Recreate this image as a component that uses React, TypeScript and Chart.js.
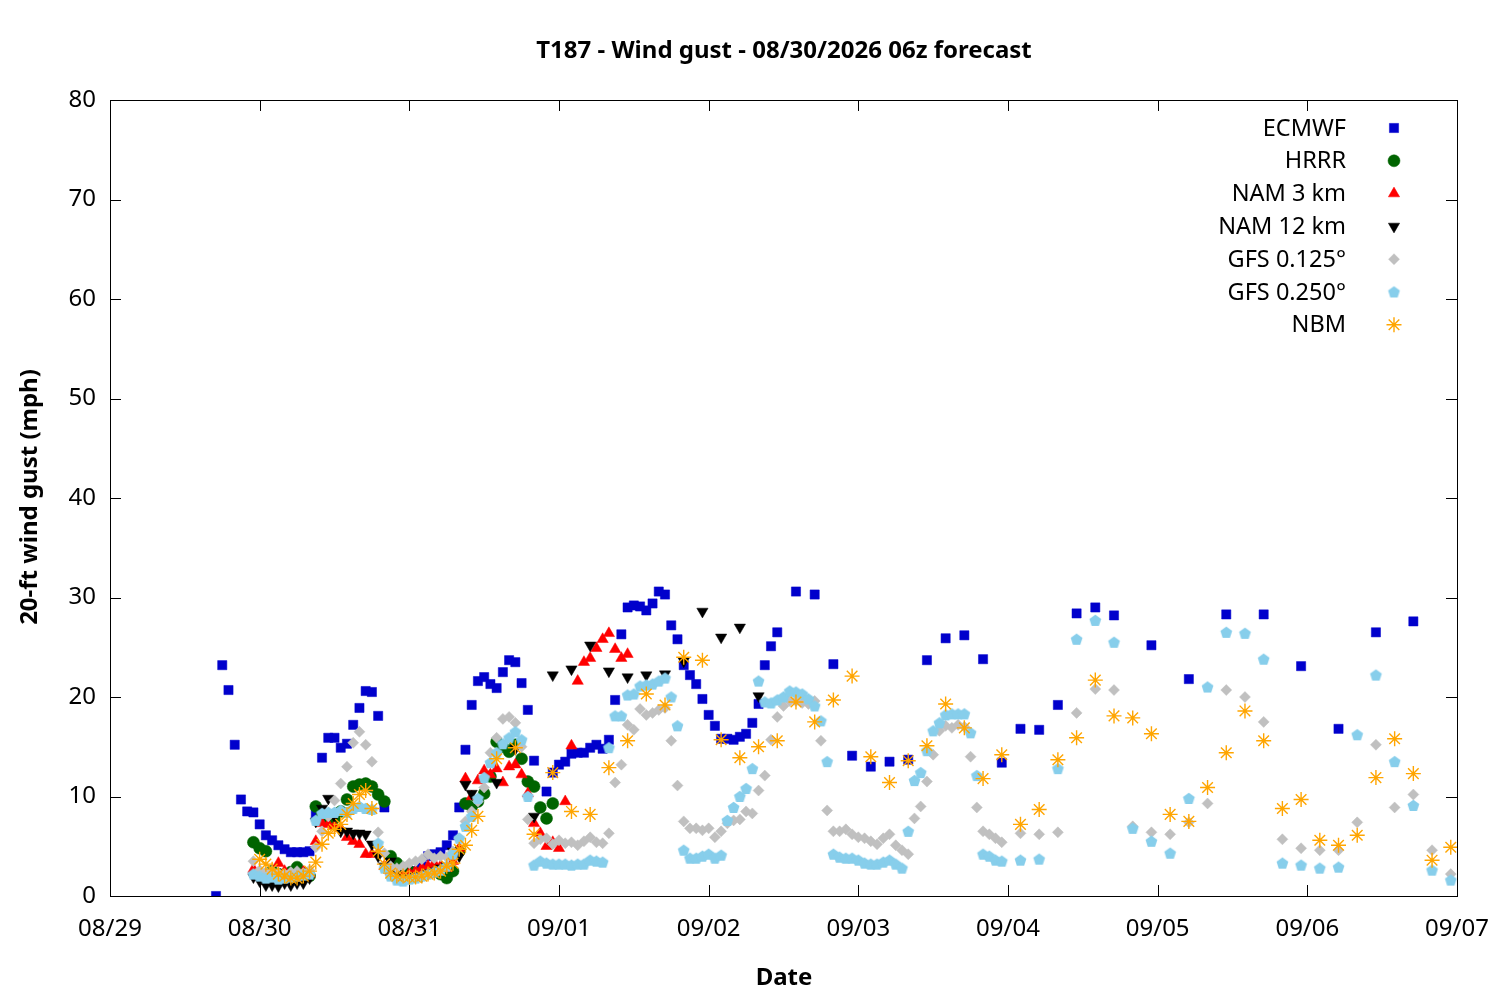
import React, { useEffect, useRef } from 'react';
import { Chart, registerables } from 'chart.js';
import { drawPoint } from 'chart.js/helpers';

Chart.register(...registerables);

// time stamps are hours after 08/29 00z
const span = (a: number, b: number, step: number) => {
  const out: number[] = [];
  for (let h = a; h <= b; h += step) out.push(h);
  return out;
};

const dateLabels = ['08/29', '08/30', '08/31', '09/01', '09/02', '09/03', '09/04', '09/05', '09/06', '09/07'];

const ecmwfHours = [...span(17, 68, 1), ...span(70, 107, 1), ...span(110, 161, 3), ...span(167, 209, 6)];
const ecmwfGust = [
  0, 23.2, 20.7, 15.2, 9.7, 8.5, 8.4, 7.2, 6.1, 5.6, 5.1, 4.7, 4.4, 4.4, 4.4, 4.5,
  8.2, 13.9, 15.9, 15.9, 14.9, 15.3, 17.2, 18.9, 20.6, 20.5, 18.1, 8.9,
  3.0, 2.5, 2.2, 2.2, 2.5, 3.0, 4.0, 4.2, 4.4, 5.1, 6.1, 8.9, 14.7, 19.2, 21.6, 22.0,
  21.3, 20.9, 22.5, 23.7, 23.5, 21.4, 18.7, 13.6,
  10.5, 12.4, 13.2, 13.5, 14.3, 14.4, 14.4, 14.9, 15.2, 14.8, 15.7, 19.7, 26.3, 29.0,
  29.2, 29.1, 28.7, 29.4, 30.6, 30.3, 27.2, 25.8, 23.2, 22.2, 21.3, 19.8, 18.2, 17.1,
  15.8, 15.8, 15.7, 16.0, 16.3, 17.4, 19.3, 23.2, 25.1, 26.5,
  30.6, 30.3, 23.3, 14.1, 13.0, 13.5, 13.7, 23.7, 25.9, 26.2, 23.8, 13.4, 16.8, 16.7,
  19.2, 28.4, 29.0, 28.2,
  25.2, 21.8, 28.3, 28.3, 23.1, 16.8, 26.5, 27.6,
];

const hrrrHours = span(23, 71, 1);
const hrrrGust = [
  5.4, 4.8, 4.5, 2.5, 2.2, 2.0, 2.4, 2.9, 2.3, 2.0, 9.0, 8.2, 7.8, 7.8, 8.5, 9.7,
  11.0, 11.2, 11.3, 11.0, 10.2, 9.5, 4.0, 3.3, 2.8, 2.5, 2.3, 2.2, 2.3, 2.5, 2.2, 1.8,
  2.5, 4.5, 9.3, 9.0, 9.5, 10.3, 12.0, 15.5, 15.0, 14.5, 15.2, 13.8, 11.5, 11.0, 8.9,
  7.8, 9.3,
];

const nam3Hours = span(23, 83, 1);
const nam3Gust = [
  2.7, 2.2, 1.5, 2.0, 3.3, 2.5, 1.8, 2.0, 2.4, 2.2, 5.5, 7.3, 7.2, 7.0, 6.8, 5.9,
  5.5, 5.2, 4.2, 4.2, 4.3, 3.0, 2.5, 2.2, 2.0, 2.3, 2.5, 2.8, 3.0, 3.3, 3.0, 2.8,
  3.5, 4.8, 11.8, 10.0, 11.6, 12.6, 12.2, 12.8, 11.4, 13.0, 13.2, 12.2, 10.3, 7.3,
  6.3, 5.0, 5.4, 4.8, 9.5, 15.1, 21.6, 23.5, 23.9, 24.9, 25.8, 26.4, 24.8, 23.9, 24.3,
];

const nam12Hours = [...span(23, 58, 1), 62, 65, 68, ...span(71, 104, 3)];
const nam12Gust = [
  1.9, 1.5, 1.1, 1.1, 1.0, 1.3, 1.1, 1.3, 1.3, 1.8, 7.5, 8.8, 9.8, 8.0, 6.5, 6.5,
  6.3, 6.3, 6.2, 5.2, 4.0, 3.0, 3.5, 2.3, 1.8, 1.8, 2.0, 2.0, 2.3, 2.5, 2.8, 3.0,
  4.5, 4.0, 11.2, 10.3,
  11.4, 14.8, 8.0,
  22.2, 22.8, 25.2, 22.6, 22.0, 22.2, 22.3, 23.6, 28.6, 26.0, 27.0, 20.1,
];

const gfsHours = [...span(23, 143, 1), ...span(146, 215, 3)];
const gfs125Gust = [
  3.5, 2.6, 2.4, 2.5, 2.3, 2.2, 2.4, 2.5, 2.3, 2.6, 4.9, 6.5, 8.0, 9.6, 11.3, 13.0,
  15.4, 16.5, 15.2, 13.5, 6.4, 4.3, 3.0, 2.8, 3.0, 3.3, 3.5, 3.7, 4.2, 3.8, 4.0, 3.9,
  4.5, 5.8, 7.5, 8.5, 9.5, 10.9, 14.4, 15.9, 17.8, 18.0, 17.4, 15.0, 7.7, 5.3, 5.7,
  5.8, 5.2, 5.6, 5.3, 5.4, 5.1, 5.5, 5.9, 5.4, 5.3, 6.3, 11.4, 13.2, 17.2, 16.7, 18.8,
  18.2, 18.4, 18.7, 18.9, 15.6, 11.1, 7.5, 6.8, 6.8, 6.6, 6.8, 5.9, 6.5, 7.3, 7.6,
  7.7, 8.5, 8.3, 10.6, 12.1, 15.7, 18.0, 19.1, 19.6, 19.6, 19.4, 19.3, 19.6, 15.6,
  8.6, 6.5, 6.5, 6.7, 6.2, 5.9, 5.8, 5.5, 5.2, 5.8, 6.2, 5.1, 4.6, 4.2, 7.8, 9.0,
  11.5, 14.2, 16.6, 17.1, 16.9, 17.2, 17.0, 14.0, 8.9, 6.5, 6.2, 5.8, 5.4,
  6.3, 6.2, 6.4, 18.4, 20.8, 20.7, 7.0, 6.4, 6.2, 7.4, 9.3, 20.7, 20.0, 17.5, 5.7,
  4.8, 4.6, 4.6, 7.4, 15.2, 8.9, 10.2, 4.6, 2.2,
];
const gfs250Gust = [
  2.2, 2.0, 1.8, 1.9, 1.7, 1.8, 1.9, 2.0, 2.1, 2.2, 7.6, 8.3, 8.4, 8.4, 8.6, 8.4,
  8.8, 9.0, 8.8, 8.7, 5.3, 2.8, 2.0, 1.6, 1.5, 1.7, 1.8, 2.0, 2.2, 2.4, 2.6, 3.0,
  4.2, 5.8, 7.0, 8.0, 9.8, 11.9, 13.4, 14.4, 15.3, 15.9, 16.5, 15.7, 10.0, 3.1, 3.5,
  3.3, 3.2, 3.2, 3.2, 3.1, 3.2, 3.2, 3.6, 3.5, 3.4, 14.9, 18.1, 18.1, 20.2, 20.3, 21.1,
  21.2, 21.3, 21.6, 21.9, 20.0, 17.1, 4.6, 3.8, 3.8, 4.0, 4.2, 3.8, 4.1, 7.6, 8.9,
  10.0, 10.8, 12.8, 21.6, 19.5, 19.4, 19.7, 20.0, 20.6, 20.5, 20.3, 19.8, 19.1, 17.6,
  13.5, 4.2, 3.9, 3.8, 3.8, 3.6, 3.3, 3.2, 3.2, 3.4, 3.6, 3.2, 2.8, 6.5, 11.6, 12.4,
  14.6, 16.6, 17.4, 18.2, 18.3, 18.3, 18.3, 16.4, 12.1, 4.2, 4.0, 3.6, 3.5,
  3.6, 3.7, 12.8, 25.8, 27.7, 25.5, 6.8, 5.5, 4.3, 9.8, 21.0, 26.5, 26.4, 23.8, 3.3,
  3.1, 2.8, 2.9, 16.2, 22.2, 13.5, 9.1, 2.6, 1.6,
];

const nbmHours = [...span(24, 59, 1), ...span(62, 215, 3)];
const nbmGust = [
  3.7, 3.2, 2.7, 2.2, 2.0, 1.8, 1.8, 2.0, 2.5, 3.4, 5.2, 6.3, 6.7, 7.2, 8.2, 9.3,
  10.2, 10.6, 8.8, 4.5, 3.2, 2.3, 2.0, 2.0, 1.9, 1.9, 2.0, 2.2, 2.3, 2.5, 3.0, 3.3,
  4.7, 5.1, 6.6, 8.0,
  13.8, 14.9, 6.2, 12.4, 8.5, 8.2, 12.9, 15.6, 20.3, 19.2, 24.0, 23.7, 15.7, 13.9,
  15.0, 15.6, 19.5, 17.5, 19.7, 22.1, 14.0, 11.4, 13.6, 15.1, 19.3, 16.9, 11.8, 14.2,
  7.2, 8.7, 13.7, 15.9, 21.7, 18.1, 17.9, 16.3, 8.2, 7.5, 10.9, 14.4, 18.6, 15.6,
  8.8, 9.7, 5.6, 5.1, 6.1, 11.9, 15.8, 12.3, 3.6, 4.9,
];

const FONT = '"Noto Sans", "DejaVu Sans", sans-serif';

const pentagon = (color: string, r: number) => {
  const c = document.createElement('canvas');
  const s = Math.ceil(r * 2 + 2);
  c.width = s;
  c.height = s;
  const g = c.getContext('2d')!;
  g.fillStyle = color;
  g.beginPath();
  for (let k = 0; k < 5; k++) {
    const a = -Math.PI / 2 + (k * 2 * Math.PI) / 5;
    const px = s / 2 + r * Math.cos(a);
    const py = s / 2 + r * Math.sin(a) + 0.5;
    if (k === 0) g.moveTo(px, py);
    else g.lineTo(px, py);
  }
  g.closePath();
  g.fill();
  return c;
};

const toPoints = (hours: number[], vals: number[]) => hours.map((h, i) => ({ x: h, y: vals[i] }));

const frameAndLegend = {
  id: 'frameAndLegend',
  beforeDatasetsDraw(chart: any) {
    const { ctx, chartArea: a, scales } = chart;
    ctx.save();
    ctx.strokeStyle = '#000';
    ctx.lineWidth = 1;
    ctx.strokeRect(Math.round(a.left) + 0.5, Math.round(a.top) + 0.5, a.right - a.left, a.bottom - a.top);
    ctx.beginPath();
    for (let v = 10; v < 80; v += 10) {
      const y = Math.round(scales.y.getPixelForValue(v)) + 0.5;
      ctx.moveTo(a.left, y);
      ctx.lineTo(a.left + 11, y);
      ctx.moveTo(a.right, y);
      ctx.lineTo(a.right - 11, y);
    }
    for (let h = 24; h < 216; h += 24) {
      const x = Math.round(scales.x.getPixelForValue(h)) + 0.5;
      ctx.moveTo(x, a.bottom);
      ctx.lineTo(x, a.bottom - 11);
      ctx.moveTo(x, a.top);
      ctx.lineTo(x, a.top + 11);
    }
    ctx.stroke();
    ctx.restore();
  },
  afterDraw(chart: any) {
    const { ctx } = chart;
    ctx.save();
    ctx.fillStyle = '#000';
    ctx.font = `bold 24px ${FONT}`;
    ctx.textAlign = 'center';
    ctx.textBaseline = 'middle';
    ctx.fillText('T187 - Wind gust - 08/30/2026 06z forecast', 784, 51);
    ctx.fillText('Date', 784, 978);
    ctx.save();
    ctx.translate(30, 497);
    ctx.rotate(-Math.PI / 2);
    ctx.fillText('20-ft wind gust (mph)', 0, 0);
    ctx.restore();

    ctx.font = `23.5px ${FONT}`;
    ctx.textAlign = 'right';
    chart.data.datasets.forEach((ds: any, i: number) => {
      const y = 129 + i * 32.8;
      ctx.fillStyle = '#000';
      ctx.fillText(ds.label, 1346, y);
      ctx.fillStyle = ds.backgroundColor;
      ctx.strokeStyle = ds.borderColor;
      ctx.lineWidth = ds.borderWidth;
      drawPoint(ctx, { pointStyle: ds.pointStyle, radius: ds.pointRadius, rotation: ds.rotation || 0, borderWidth: ds.borderWidth }, 1394, y - 1);
    });
    ctx.restore();
  },
};

const App: React.FC = () => {
  const chartRef = useRef<HTMLCanvasElement>(null);
  const chartInstance = useRef<Chart | null>(null);

  useEffect(() => {
    document.body.style.margin = '0';
    if (!chartRef.current) return;
    if (chartInstance.current) chartInstance.current.destroy();

    const series = [
      { label: 'ECMWF', data: toPoints(ecmwfHours, ecmwfGust), color: '#0000cc', pointStyle: 'rect', pointRadius: 6.5, borderWidth: 0.5 },
      { label: 'HRRR', data: toPoints(hrrrHours, hrrrGust), color: '#006400', pointStyle: 'circle', pointRadius: 6, borderWidth: 0.5 },
      { label: 'NAM 3 km', data: toPoints(nam3Hours, nam3Gust), color: '#ff0000', pointStyle: 'triangle', pointRadius: 6.5, borderWidth: 0.5 },
      { label: 'NAM 12 km', data: toPoints(nam12Hours, nam12Gust), color: '#000000', pointStyle: 'triangle', rotation: 180, pointRadius: 6.5, borderWidth: 0.5 },
      { label: 'GFS 0.125\u00b0', data: toPoints(gfsHours, gfs125Gust), color: '#c0c0c0', pointStyle: 'rectRot', pointRadius: 5.5, borderWidth: 0.5 },
      { label: 'GFS 0.250\u00b0', data: toPoints(gfsHours, gfs250Gust), color: '#87ceeb', pointStyle: pentagon('#87ceeb', 6.2), pointRadius: 6, borderWidth: 0 },
      { label: 'NBM', data: toPoints(nbmHours, nbmGust), color: '#ffa500', pointStyle: 'star', pointRadius: 7.5, borderWidth: 1.4 },
    ];

    const ctx = chartRef.current.getContext('2d');
    if (!ctx) return;
    chartInstance.current = new Chart(ctx, {
      type: 'scatter',
      data: {
        datasets: series.map((s, i) => ({
          label: s.label,
          data: s.data,
          backgroundColor: s.color,
          borderColor: s.color,
          borderWidth: s.borderWidth,
          pointStyle: s.pointStyle as any,
          pointRadius: s.pointRadius,
          rotation: (s as any).rotation || 0,
          pointRotation: (s as any).rotation || 0,
          order: series.length - i,
        })) as any,
      },
      options: {
        responsive: false,
        animation: false,
        devicePixelRatio: 1,
        layout: { padding: { top: 100, right: 43, left: 0, bottom: 0 } },
        plugins: {
          legend: { display: false },
          title: { display: false },
          tooltip: { enabled: false },
        },
        scales: {
          x: {
            type: 'linear',
            min: 0,
            max: 216,
            grid: { display: false, drawTicks: false },
            border: { display: false },
            afterFit: (scale: any) => {
              scale.height = 104;
              scale.paddingLeft = 0;
              scale.paddingRight = 0;
            },
            ticks: {
              stepSize: 24,
              autoSkip: false,
              maxRotation: 0,
              padding: 19,
              color: '#000',
              font: { family: FONT, size: 24 },
              callback: (v: any) => dateLabels[Math.round(Number(v) / 24)] ?? '',
            },
          },
          y: {
            min: 0,
            max: 80,
            grid: { display: false, drawTicks: false },
            border: { display: false },
            afterFit: (scale: any) => {
              scale.width = 110;
              scale.paddingTop = 0;
              scale.paddingBottom = 0;
            },
            ticks: {
              stepSize: 10,
              padding: 14,
              color: '#000',
              font: { family: FONT, size: 24 },
            },
          },
        },
      },
      plugins: [frameAndLegend],
    });

    return () => {
      if (chartInstance.current) {
        chartInstance.current.destroy();
        chartInstance.current = null;
      }
    };
  }, []);

  return (
    <div style={{ width: 1500, height: 1000, background: '#fff' }}>
      <canvas ref={chartRef} width={1500} height={1000} style={{ display: 'block' }} />
    </div>
  );
};

export default App;
